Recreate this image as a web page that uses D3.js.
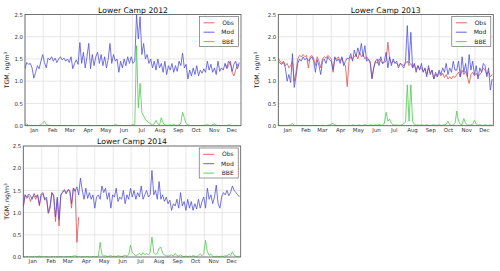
<!DOCTYPE html>
<html>
<head>
<meta charset="utf-8">
<script src="https://cdn.jsdelivr.net/npm/d3@7"></script>
<style>
  body { margin: 0; background: #fff; }
  svg { display: block; font-family: "DejaVu Sans", sans-serif; }
</style>
</head>
<body>
<svg id="chart" width="500" height="271"></svg>
<script>
// one value every 3 days, starting Jan 1
const stepDays = 3
const seriesNames = ["Obs", "Mod", "BBE"]
const yTicks = [0, 0.5, 1.0, 1.5, 2.0, 2.5]

const mod2012 = [
  1.28, 1.42, 1.38, 1.40, 1.30, 1.07, 1.20, 1.35, 1.28, 1.45, 1.60,
  1.42, 1.30, 1.52, 1.48, 1.55, 1.45, 1.52, 1.42, 1.50,
  1.55, 1.48, 1.52, 1.45, 1.50, 1.42, 1.55, 1.28, 1.40, 1.48, 1.38,
  1.87, 1.40, 1.65, 1.30, 1.55, 1.85, 1.28, 1.60, 1.35, 1.55,
  1.65, 1.40, 1.60, 1.35, 1.55, 1.30, 1.50, 1.85, 1.40, 1.60,
  1.45, 1.50, 1.20, 1.45, 1.30, 1.50, 1.35, 1.55, 1.40, 1.55,
  1.40, 1.45, 2.50, 1.95, 2.45, 1.60, 1.85, 1.50, 1.60, 1.40, 1.50,
  1.30, 1.45, 1.25, 1.50, 1.30, 1.40, 1.20, 1.45, 1.15, 1.35,
  1.25, 1.40, 1.20, 1.35, 1.22, 1.45, 1.35, 1.63, 1.30, 1.38,
  1.05, 1.25, 1.12, 1.30, 1.15, 1.35, 1.12, 1.25, 1.18, 1.28,
  1.20, 1.45, 1.25, 1.38, 1.20, 1.30, 1.15, 1.45, 1.22, 1.30,
  1.25, 1.40, 1.30, 1.45, 1.40, 1.22, 1.38, 1.45, 1.28, 1.42
]
const obs2012Start = 113
const obs2012 = [1.40, 1.28, 1.35, 1.45, 1.20, 1.12, 1.25, 1.38, 1.35]
const bbe2012 = [
  0.01, 0.04, 0.01, 0, 0.01, 0, 0.01, 0, 0.01, 0.02,
  0.07, 0.10, 0.03, 0.01, 0.01, 0, 0.01, 0, 0, 0.01,
  0, 0, 0.01, 0, 0, 0, 0.01, 0, 0, 0,
  0, 0.01, 0, 0, 0, 0, 0.01, 0, 0, 0,
  0, 0, 0.01, 0, 0, 0, 0, 0.01, 0, 0,
  0, 0.03, 0.01, 0, 0.01, 0, 0, 0.01, 0, 0.01,
  0.01, 0.02, 0.02, 1.80, 0.40, 0.95, 0.30, 0.22, 0.15, 0.10,
  0.07, 0.04, 0.02, 0.04, 0.12, 0.04, 0.02, 0.18, 0.06, 0.02,
  0.01, 0.01, 0.02, 0.01, 0.03, 0.01, 0.01, 0.02, 0.05, 0.30,
  0.18, 0.05, 0.02, 0.01, 0, 0.01, 0, 0, 0.01, 0,
  0, 0.01, 0.01, 0.03, 0.01, 0, 0.02, 0.04, 0.02, 0,
  0.01, 0, 0, 0.01, 0, 0.02, 0.01, 0, 0, 0.01,
  0, 0.01
]

const mod2013 = [
  1.45, 1.40, 1.38, 1.42, 1.30, 1.00, 1.15, 0.97, 1.62, 0.86,
  1.10, 1.40, 1.50, 1.45, 1.55, 1.48, 1.52, 1.45, 1.50, 1.55,
  1.45, 1.20, 1.48, 1.35, 1.15, 1.45, 1.50, 1.40, 1.55, 1.48,
  1.45, 1.25, 1.55, 1.45, 1.50, 1.40, 1.55, 1.35, 1.45, 1.52,
  1.50, 1.62, 1.45, 1.70, 1.55, 1.75, 1.60, 1.85, 1.55, 1.80,
  1.45, 1.50, 1.40, 1.05, 1.30, 1.45, 1.50, 1.35, 1.55, 1.40,
  1.45, 1.65, 1.30, 1.55, 1.35, 1.50, 1.40, 1.45, 1.30, 1.40,
  1.35, 1.30, 1.45, 2.25, 1.40, 2.10, 1.30, 1.40, 1.20, 1.35,
  1.25, 1.40, 1.20, 1.30, 1.10, 1.35, 1.15, 1.25, 1.05, 1.20,
  1.10, 1.25, 1.15, 1.30, 1.20, 1.40, 1.15, 1.30, 1.20, 1.45,
  1.25, 1.25, 1.45, 1.10, 1.55, 1.20, 1.40, 1.10, 1.60, 1.25,
  1.45, 1.15, 1.35, 1.05, 1.30, 1.20, 1.40, 1.35, 1.10, 1.30,
  0.80, 1.05
]
const obs2013Start = 0
const obs2013 = [
  1.52, 1.45, 1.40, 1.45, 1.35, 1.40, 1.30, 1.35, 1.45, 1.00,
  1.20, 1.50, 1.58, 1.55, 1.60, 1.55, 1.58, 1.30, 1.55, 1.58,
  1.50, 1.35, 1.55, 1.45, 1.30, 1.50, 1.55, 1.52, 1.58, 1.55,
  1.50, 1.20, 1.52, 1.50, 1.55, 1.45, 1.52, 1.40, 1.35, 0.88,
  1.45, 1.55, 1.50, 1.55, 1.60, 1.50, 1.65, 1.55, 1.60, 1.50,
  1.55, 1.48, 1.45, 1.08, 1.30, 1.45, 1.40, 1.50, 1.45, 1.40,
  1.42, 1.45, 1.88, 1.50, 1.40, 1.45, 1.42, 1.40, 1.35, 1.40,
  1.38, 1.35, 1.40, 1.45, 1.35, 1.40, 1.30, 1.38, 1.25, 1.35,
  1.28, 1.30, 1.22, 1.28, 1.15, 1.30, 1.18, 1.25, 1.05, 1.15,
  1.10, 1.20, 1.12, 1.18, 1.08, 1.15, 1.05, 1.10, 1.05, 1.12,
  1.08, 1.15, 1.20, 1.10, 1.25, 1.15, 1.22, 1.10, 0.95, 1.15,
  1.20, 1.12, 1.18, 1.10, 1.15, 1.20, 1.30, 1.25, 1.15, 1.22,
  1.10, 1.15
]
const bbe2013 = [
  0, 0.01, 0, 0.01, 0, 0, 0.01, 0.02, 0.05, 0.01,
  0, 0.01, 0, 0, 0.01, 0, 0, 0.01, 0, 0,
  0, 0.01, 0, 0, 0, 0.01, 0, 0, 0.01, 0.02,
  0.04, 0.05, 0.02, 0.01, 0, 0.01, 0, 0, 0.01, 0,
  0.01, 0, 0.02, 0.01, 0, 0.01, 0.02, 0, 0.01, 0.02,
  0.01, 0, 0.02, 0.01, 0.01, 0.02, 0.01, 0.03, 0.01, 0.02,
  0.05, 0.30, 0.10, 0.15, 0.05, 0.02, 0.01, 0.02, 0.01, 0.01,
  0.02, 0.05, 0.08, 0.92, 0.10, 0.92, 0.10, 0.03, 0.01, 0.02,
  0.01, 0.02, 0.01, 0.01, 0.02, 0.01, 0, 0.01, 0.02, 0.01,
  0.01, 0.02, 0.01, 0.01, 0.02, 0.03, 0.10, 0.02, 0.01, 0.02,
  0.05, 0.33, 0.10, 0.03, 0.02, 0.16, 0.05, 0.02, 0.01, 0.02,
  0.03, 0.12, 0.04, 0.01, 0.02, 0.01, 0.01, 0.02, 0.01, 0.01,
  0.02, 0.01
]

const mod2014 = [
  1.12, 1.40, 1.35, 1.42, 1.38, 1.30, 1.43, 1.35, 1.40, 1.18,
  1.42, 1.45, 1.30, 1.35, 1.00, 1.15, 1.45, 1.40, 0.90, 1.35,
  0.85, 1.40, 1.45, 1.50, 1.42, 1.52, 1.50, 1.20, 1.55, 1.48,
  1.58, 1.40, 1.78, 1.50, 1.30, 1.55, 1.32, 1.45, 1.30, 1.40,
  1.10, 1.35, 1.40, 1.30, 1.60, 1.45, 1.55, 1.30, 1.45, 1.10,
  1.40, 1.35, 1.55, 1.25, 1.35, 1.30, 1.50, 1.20, 1.40, 1.30,
  1.55, 1.35, 1.50, 1.30, 1.45, 1.35, 1.60, 1.30, 1.40, 1.50,
  1.35, 1.40, 1.95, 1.40, 1.50, 1.30, 1.70, 1.30, 1.40, 1.25,
  1.35, 1.20, 1.28, 1.05, 1.20, 1.15, 1.30, 1.10, 1.45, 1.15,
  1.25, 1.05, 1.30, 1.10, 1.25, 1.05, 1.20, 1.08, 1.30, 1.10,
  1.25, 1.35, 1.10, 1.55, 1.30, 1.40, 1.20, 1.35, 1.62, 1.20,
  1.10, 1.35, 1.45, 1.40, 1.50, 1.38, 1.45, 1.60, 1.50, 1.45,
  1.40, 1.35
]
const obs2014Start = 0
const obs2014 = [
  1.15, 1.40, 1.32, 1.38, 1.25, 1.35, 1.38, 1.30, 1.40, 1.15,
  1.38, 1.42, 1.28, 1.30, 0.98, 1.10, 1.45, 1.35, 0.80, 1.30,
  0.70, 1.38, 1.48, 1.52, 1.45, 1.50, 1.48, 1.10, 1.55, 1.52,
  0.33, 0.90
]
const bbe2014 = [
  0.01, 0, 0.01, 0, 0, 0.01, 0, 0, 0.01, 0.02,
  0.01, 0, 0, 0.01, 0, 0, 0.01, 0, 0, 0.01,
  0, 0.01, 0, 0, 0.01, 0, 0.01, 0.01, 0.02, 0.03,
  0.01, 0, 0, 0.01, 0, 0, 0.01, 0, 0, 0.01,
  0, 0.01, 0.02, 0.33, 0.05, 0.02, 0.03, 0.01, 0.02, 0.03,
  0.01, 0.02, 0.01, 0.03, 0.02, 0.01, 0.02, 0.04, 0.02, 0.05,
  0.27, 0.10, 0.06, 0.03, 0.05, 0.08, 0.04, 0.10, 0.05, 0.08,
  0.05, 0.10, 0.45, 0.10, 0.06, 0.08, 0.20, 0.22, 0.08, 0.05,
  0.03, 0.02, 0.03, 0.05, 0.02, 0.08, 0.03, 0.02, 0.05, 0.02,
  0.01, 0.02, 0.01, 0.02, 0.01, 0.03, 0.02, 0.01, 0.03, 0.07,
  0.03, 0.08, 0.38, 0.12, 0.04, 0.06, 0.02, 0.01, 0.02, 0.01,
  0.01, 0.02, 0.01, 0.03, 0.02, 0.07, 0.03, 0.12, 0.04, 0.02,
  0.01, 0.02
]

const colors = { Obs: "#e05252", Mod: "#5050dc", BBE: "#4ccc4c" }

const svg = d3.select("#chart")

// one axes panel
function drawPanel(p, idx) {
  const { left, right, top, bottom } = p
  const start = new Date(p.year, 0, 1)
  const end = new Date(p.year + 1, 0, 1)

  const x = d3.scaleTime().domain([start, end]).range([left, right])
  const y = d3.scaleLinear().domain([0, 2.5]).range([bottom, top])

  const g = svg.append("g")

  g.append("clipPath").attr("id", "clip" + idx)
    .append("rect")
    .attr("x", left).attr("y", top)
    .attr("width", right - left).attr("height", bottom - top)

  // grid
  g.append("g").selectAll("line")
    .data(d3.timeMonth.range(start, end))
    .join("line")
    .attr("x1", d => x(d)).attr("x2", d => x(d))
    .attr("y1", top).attr("y2", bottom)
    .attr("stroke", "#dcdcdc").attr("stroke-width", 0.7)

  g.append("g").selectAll("line")
    .data(yTicks)
    .join("line")
    .attr("x1", left).attr("x2", right)
    .attr("y1", d => y(d)).attr("y2", d => y(d))
    .attr("stroke", "#dcdcdc").attr("stroke-width", 0.7)

  const toPoints = (arr, offset) => arr.map((v, i) => ({
    date: d3.timeDay.offset(start, (offset + i) * stepDays), v
  }))

  const line = d3.line().x(d => x(d.date)).y(d => y(d.v))

  const series = [
    { name: "Obs", pts: toPoints(p.obs, p.obsStart) },
    { name: "Mod", pts: toPoints(p.mod, 0) },
    { name: "BBE", pts: toPoints(p.bbe, 0) }
  ]

  g.append("g").attr("clip-path", `url(#clip${idx})`)
    .selectAll("path")
    .data(series)
    .join("path")
    .attr("d", d => line(d.pts))
    .attr("fill", "none")
    .attr("stroke", d => colors[d.name])
    .attr("stroke-width", 0.8)
    .attr("stroke-linejoin", "round")

  // axes
  const mids = d3.timeMonth.range(start, end).map(d => d3.timeDay.offset(d, 15))
  const xAxis = g.append("g")
    .attr("transform", `translate(0,${bottom})`)
    .call(d3.axisBottom(x).tickValues(mids).tickFormat(d3.timeFormat("%b")).tickSize(0).tickPadding(2.1))
  const yAxis = g.append("g")
    .attr("transform", `translate(${left},0)`)
    .call(d3.axisLeft(y).tickValues(yTicks).tickFormat(d3.format(".1f")).tickSize(0).tickPadding(2))
  ;[xAxis, yAxis].forEach(a => {
    a.select(".domain").remove()
    a.attr("font-size", 5.4).attr("font-family", null)
    a.selectAll("text").attr("fill", "#333")
  })

  g.append("rect")
    .attr("x", left).attr("y", top)
    .attr("width", right - left).attr("height", bottom - top)
    .attr("fill", "none").attr("stroke", "#555").attr("stroke-width", 0.8)

  g.append("text")
    .attr("x", (left + right) / 2).attr("y", top - 2)
    .attr("text-anchor", "middle")
    .attr("font-size", 7.7).attr("fill", "#111")
    .text("Lower Camp " + p.year)

  const yl = g.append("text")
    .attr("transform", `translate(${p.labelX},${(top + bottom) / 2}) rotate(-90)`)
    .attr("text-anchor", "middle")
    .attr("dy", "0.35em")
    .attr("font-size", 6.2).attr("fill", "#222")
  yl.append("tspan").text("TGM, ng/m")
  yl.append("tspan").attr("dy", -2.2).attr("font-size", 4.3).text("3")

  // legend
  const bw = 39, bh = 30
  const bx = right - 2.5 - bw, by = top + 2
  const leg = g.append("g")
  leg.append("rect")
    .attr("x", bx).attr("y", by).attr("width", bw).attr("height", bh)
    .attr("fill", "#fff").attr("stroke", "#555").attr("stroke-width", 0.6)
  const items = leg.selectAll("g.item")
    .data(seriesNames)
    .join("g")
    .attr("transform", (d, i) => `translate(0,${by + 6.3 + i * 9.4})`)
  items.append("line")
    .attr("x1", bx + 4).attr("x2", bx + 15)
    .attr("stroke", d => colors[d]).attr("stroke-width", 0.9)
  items.append("text")
    .attr("x", bx + bw - 4.5)
    .attr("dy", "0.35em")
    .attr("text-anchor", "end")
    .attr("font-size", 6).attr("fill", "#222")
    .text(d => d)
}

const panels = [
  { year: 2012, left: 25, right: 241, top: 14.5, bottom: 125.7, labelX: 6.7,
    mod: mod2012, obs: obs2012, obsStart: obs2012Start, bbe: bbe2012 },
  { year: 2013, left: 278.3, right: 493.3, top: 14.5, bottom: 125.7, labelX: 257.3,
    mod: mod2013, obs: obs2013, obsStart: obs2013Start, bbe: bbe2013 },
  { year: 2014, left: 23.3, right: 240.7, top: 146, bottom: 257, labelX: 6.7,
    mod: mod2014, obs: obs2014, obsStart: obs2014Start, bbe: bbe2014 }
]

panels.forEach(drawPanel)
</script>
</body>
</html>
